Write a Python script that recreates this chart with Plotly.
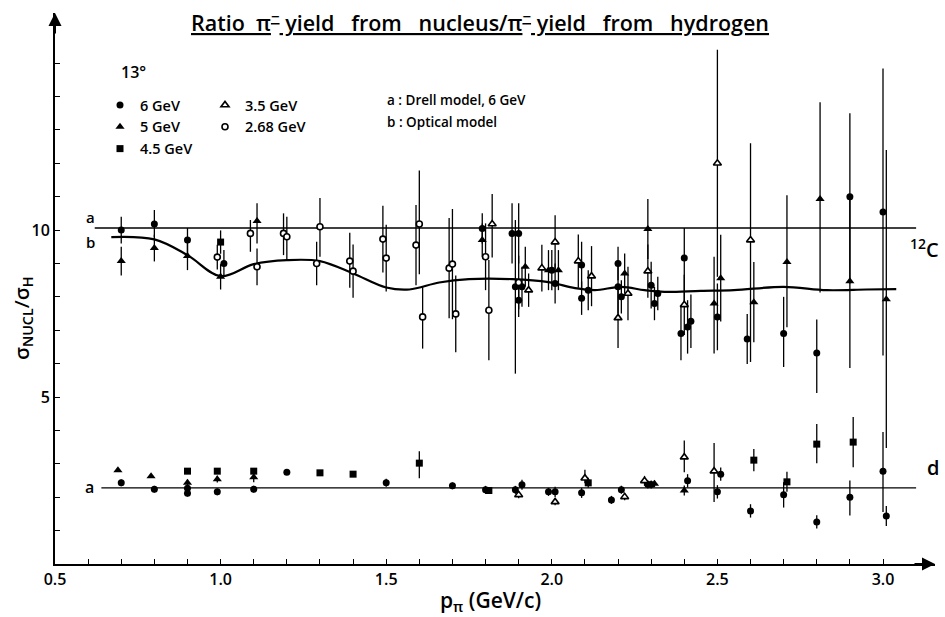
import plotly.graph_objects as go

# ---------------- data ----------------
# 6 GeV (filled circles)
x6 = [0.70, 0.80, 0.90, 1.01, 1.79, 1.88, 1.89, 1.90, 1.91, 1.90, 2.00, 2.01, 2.09, 2.09, 2.11, 2.20, 2.20, 2.21,
      2.30, 2.31, 2.32, 2.40, 2.39, 2.41, 2.42, 2.50, 2.59, 2.70, 2.80, 2.90, 3.00,
      0.70, 0.80, 0.90, 0.90, 0.99, 1.10, 1.20, 1.50, 1.70, 1.80, 1.89, 1.91, 1.99, 2.01, 2.09, 2.18, 2.21, 2.29,
      2.30, 2.41, 2.50, 2.51, 2.60, 2.70, 2.80, 2.90, 3.00, 3.01]
y6 = [10.0, 10.18, 9.7, 9.0, 10.05, 9.9, 8.3, 9.9, 8.3, 7.9, 8.8, 8.4, 8.95, 7.96, 8.2, 8.3, 9.0, 8.0,
      8.35, 7.8, 8.1, 9.16, 6.9, 7.1, 7.27, 7.4, 6.74, 6.9, 6.32, 11.0, 10.54,
      2.43, 2.24, 2.27, 2.12, 2.16, 2.24, 2.75, 2.43, 2.34, 2.22, 2.22, 2.37, 2.16, 2.16, 2.13, 1.92, 2.22, 2.38,
      2.38, 2.49, 2.16, 2.69, 1.59, 2.07, 1.26, 2.0, 2.78, 1.44]
ep6 = [0.4, 0.42, 0.36, 0.4, 0.45, 0.9, 2.0, 0.9, 0.6, 0.5, 0.6, 0.6, 0.7, 0.5, 0.6, 0.8, 0.5, 0.5,
       0.7, 0.5, 0.5, 0.9, 0.8, 0.8, 0.8, 1.0, 0.75, 1.1, 1.0, 2.5, 4.3,
       0.1, 0.1, 0.1, 0.1, 0.1, 0.1, 0.0, 0.12, 0.1, 0.12, 0.12, 0.15, 0.12, 0.15, 0.15, 0.12, 0.12, 0.12,
       0.12, 0.2, 0.2, 0.2, 0.2, 0.38, 0.2, 0.5, 1.17, 0.3]
em6 = [0.4, 0.4, 0.4, 0.37, 0.45, 0.9, 2.6, 0.9, 0.6, 0.5, 0.6, 0.6, 0.7, 0.5, 0.6, 0.8, 0.5, 0.5,
       0.7, 0.5, 0.5, 1.4, 0.8, 0.8, 0.8, 1.0, 0.75, 1.0, 1.2, 2.6, 4.3,
       0.1, 0.1, 0.1, 0.1, 0.1, 0.1, 0.0, 0.12, 0.1, 0.12, 0.12, 0.15, 0.12, 0.15, 0.15, 0.12, 0.12, 0.12,
       0.12, 0.2, 0.2, 0.2, 0.2, 0.38, 0.2, 0.55, 1.22, 0.3]

# 5 GeV (filled triangles)
x5 = [0.70, 0.80, 0.90, 1.00, 1.11, 1.79, 1.92, 1.99, 2.02, 2.22, 2.29, 2.49, 2.51, 2.61, 2.71, 2.81, 2.90, 3.01,
      0.69, 0.79, 0.90, 0.99, 1.10, 2.31, 2.40]
y5 = [9.07, 9.46, 9.22, 8.6, 10.27, 9.7, 8.9, 8.8, 8.8, 8.7, 10.03, 7.8, 8.56, 7.84, 9.04, 10.93, 8.47, 7.93,
      2.81, 2.63, 2.43, 2.54, 2.6, 2.4, 2.2]
ep5 = [0.43, 0.4, 0.4, 0.38, 0.53, 0.5, 0.6, 0.6, 0.6, 0.6, 0.9, 1.4, 1.3, 1.2, 2.0, 2.9, 2.5, 4.47,
       0.0, 0.0, 0.1, 0.1, 0.15, 0.1, 0.15]
em5 = [0.43, 0.4, 0.42, 0.38, 0.67, 0.5, 0.6, 0.6, 0.6, 0.6, 0.9, 1.5, 1.3, 1.2, 1.95, 2.8, 2.6, 4.46,
       0.0, 0.0, 0.1, 0.1, 0.15, 0.1, 0.15]

# 4.5 GeV (filled squares)
x45 = [1.00, 0.90, 0.99, 1.10, 1.30, 1.40, 1.60, 1.81, 2.11, 2.61, 2.71, 2.80, 2.91]
y45 = [9.64, 2.78, 2.78, 2.78, 2.73, 2.69, 3.02, 2.2, 2.43, 3.11, 2.46, 3.59, 3.65]
ep45 = [0.35, 0.0, 0.0, 0.05, 0.0, 0.0, 0.36, 0.1, 0.15, 0.33, 0.3, 0.6, 0.75]
em45 = [0.35, 0.0, 0.0, 0.05, 0.0, 0.0, 0.45, 0.1, 0.15, 0.33, 0.3, 0.57, 0.75]

# 3.5 GeV (open triangles)
x35 = [1.82, 1.93, 1.97, 2.01, 2.08, 2.12, 2.20, 2.23, 2.29, 2.40, 2.50, 2.60,
       1.90, 2.01, 2.10, 2.22, 2.28, 2.40, 2.49]
y35 = [10.18, 8.2, 8.86, 9.64, 9.07, 8.62, 7.37, 8.1, 8.77, 7.76, 12.0, 9.7,
       2.07, 1.86, 2.57, 2.01, 2.49, 3.2, 2.78]
ep35 = [0.9, 0.5, 0.7, 0.8, 0.8, 0.9, 0.9, 0.8, 0.8, 0.9, 3.4, 2.9, 0.1, 0.1, 0.25, 0.1, 0.15, 0.5, 0.84]
em35 = [1.0, 0.5, 0.7, 0.8, 0.8, 0.9, 0.9, 0.8, 0.8, 0.9, 3.4, 3.65, 0.1, 0.1, 0.15, 0.1, 0.15, 0.45, 0.92]

# 2.68 GeV (open circles)
x268 = [0.99, 1.09, 1.11, 1.19, 1.20, 1.29, 1.30, 1.39, 1.40, 1.49, 1.50, 1.59, 1.60, 1.61, 1.69, 1.70, 1.71,
        1.80, 1.81, 1.90]
y268 = [9.19, 9.9, 8.9, 9.9, 9.8, 9.0, 10.1, 9.07, 8.77, 9.73, 9.16, 9.55, 10.18, 7.4, 8.86, 8.98, 7.49,
        9.2, 7.6, 8.43]
ep268 = [0.37, 0.4, 0.55, 0.6, 0.6, 0.65, 0.86, 0.85, 0.8, 1.0, 1.0, 1.2, 1.6, 0.9, 1.5, 1.65, 1.15, 1.0, 1.5, 0.8]
em268 = [0.37, 0.55, 0.55, 0.65, 0.7, 0.65, 0.9, 0.8, 0.8, 1.0, 1.0, 1.2, 1.5, 0.95, 1.5, 1.65, 1.15, 1.0, 1.5, 0.8]

# model curves
drell_c_x = [0.62, 3.10]
drell_c_y = [10.06, 10.06]
drell_d_x = [0.64, 3.10]
drell_d_y = [2.28, 2.28]
optical_x = [0.67, 0.80, 0.90, 1.00, 1.10, 1.20, 1.30, 1.40, 1.50, 1.57, 1.66, 1.75, 1.88, 1.99, 2.07, 2.13,
             2.21, 2.28, 2.34, 2.45, 2.55, 2.70, 2.83, 2.95, 3.04]
optical_y = [9.79, 9.72, 9.25, 8.62, 8.98, 9.1, 9.07, 8.7, 8.28, 8.22, 8.43, 8.53, 8.53, 8.44, 8.26, 8.2,
             8.3, 8.2, 8.15, 8.18, 8.2, 8.3, 8.2, 8.22, 8.23]

# axes ticks
x_tickvals = [0.5, 0.6, 0.7, 0.8, 0.9, 1.0, 1.1, 1.2, 1.3, 1.4, 1.5, 1.6, 1.7, 1.8, 1.9, 2.0,
              2.1, 2.2, 2.3, 2.4, 2.5, 2.6, 2.7, 2.8, 2.9, 3.0]
x_ticktext = ["0.5", "", "", "", "", "1.0", "", "", "", "", "1.5", "", "", "", "", "2.0",
              "", "", "", "", "2.5", "", "", "", "", "3.0"]
y_tickvals = [0, 1, 2, 3, 4, 5, 6, 7, 8, 9, 10, 11, 12, 13, 14, 15]
y_ticktext = ["", "", "", "", "", "5", "", "", "", "", "10", "", "", "", "", ""]

FONT = "Open Sans"
W = 600
BLACK = "black"


def F(size):
    return dict(family=FONT, size=size, color=BLACK, weight=W)


def px(xp):
    return (xp - 55) / 880


def py(yp):
    return (564 - yp) / 551


fig = go.Figure()

# model lines
fig.add_trace(go.Scatter(x=drell_c_x, y=drell_c_y, mode="lines", line=dict(color=BLACK, width=1.4),
                         showlegend=False, hoverinfo="skip"))
fig.add_trace(go.Scatter(x=drell_d_x, y=drell_d_y, mode="lines", line=dict(color=BLACK, width=1.4),
                         showlegend=False, hoverinfo="skip"))
fig.add_trace(go.Scatter(x=optical_x, y=optical_y, mode="lines",
                         line=dict(color=BLACK, width=2.2, shape="spline", smoothing=1.0),
                         showlegend=False, hoverinfo="skip"))


def add_series(x, y, ep, em, name, symbol, size, legend, openm=False):
    fig.add_trace(go.Scatter(
        x=x, y=y, mode="markers", name=name, legend=legend,
        marker=dict(symbol=symbol, size=size, color="white" if openm else BLACK,
                    line=dict(color=BLACK, width=1.6 if openm else 0)),
        error_y=dict(type="data", symmetric=False, array=ep, arrayminus=em,
                     color=BLACK, thickness=1.3, width=0),
    ))


add_series(x6, y6, ep6, em6, "6 GeV", "circle", 7, "legend")
add_series(x5, y5, ep5, em5, "5 GeV", "triangle-up", 8, "legend")
add_series(x45, y45, ep45, em45, "4.5 GeV", "square", 7, "legend")
add_series(x35, y35, ep35, em35, "3.5 GeV", "triangle-up", 7, "legend2", openm=True)
add_series(x268, y268, ep268, em268, "2.68 GeV", "circle", 6, "legend2", openm=True)

S = "\u00a0"
title_txt = ("Ratio" + S * 2 + "π<sup>−</sup>" + S + "yield" + S * 3 + "from" + S * 3 + "nucleus/" +
             "π<sup>−</sup>" + S + "yield" + S * 3 + "from" + S * 3 + "hydrogen")

annotations = [
    dict(text=title_txt, xref="paper", yref="paper", x=px(480), y=py(22), xanchor="center", yanchor="middle",
         showarrow=False, font=dict(F(21.5), lineposition="under")),
    dict(text="13°", xref="paper", yref="paper", x=px(119), y=py(72), xanchor="left", yanchor="middle",
         showarrow=False, font=F(16)),
    dict(text="a" + S + ":" + S + "Drell" + S + "model," + S + "6" + S + "GeV", xref="paper", yref="paper",
         x=px(385), y=py(100), xanchor="left", yanchor="middle", showarrow=False, font=F(13.5)),
    dict(text="b" + S + ":" + S + "Optical" + S + "model", xref="paper", yref="paper",
         x=px(385), y=py(122), xanchor="left", yanchor="middle", showarrow=False, font=F(13.5)),
    dict(text="a", x=0.607, y=10.39, xanchor="center", yanchor="middle", showarrow=False, font=F(15)),
    dict(text="b", x=0.607, y=9.64, xanchor="center", yanchor="middle", showarrow=False, font=F(15)),
    dict(text="a", x=0.604, y=2.30, xanchor="center", yanchor="middle", showarrow=False, font=F(16)),
    dict(text="<sup>12</sup>C", x=3.125, y=9.45, showarrow=False, xanchor="center", yanchor="middle",
         font=F(20)),
    dict(text="d", x=3.15, y=2.9, showarrow=False, xanchor="center", yanchor="middle", font=F(20)),
    dict(text="σ<sub>NUCL</sub>/σ<sub>H</sub>", xref="paper", yref="paper", x=px(22), y=py(318),
         xanchor="center", yanchor="middle", textangle=-90, showarrow=False, font=F(20.5)),
    dict(text="p<sub>π</sub>" + S + "(GeV/c)", xref="paper", yref="paper", x=px(490), y=py(601),
         xanchor="center", yanchor="middle", showarrow=False, font=F(21)),
    # axis arrows
    dict(x=3.157, y=0, ax=-22, ay=0, showarrow=True, arrowhead=2, arrowsize=1.3, arrowwidth=2,
         arrowcolor=BLACK, text=""),
    dict(x=0.5, y=16.5, ax=0, ay=22, showarrow=True, arrowhead=2, arrowsize=1.3, arrowwidth=2,
         arrowcolor=BLACK, text=""),
]

fig.update_layout(
    width=945, height=617,
    margin=dict(l=55, r=10, t=13, b=53),
    paper_bgcolor="white", plot_bgcolor="white",
    font=F(14),
    xaxis=dict(range=[0.5, 3.157], showline=True, linewidth=2, linecolor=BLACK, ticks="inside", ticklen=5,
               tickwidth=1.4, tickcolor=BLACK, tickvals=x_tickvals, ticktext=x_ticktext,
               tickfont=F(16), showgrid=False, zeroline=False),
    yaxis=dict(range=[0, 16.5], showline=True, linewidth=2, linecolor=BLACK, ticks="inside", ticklen=5,
               tickwidth=1.4, tickcolor=BLACK, tickvals=y_tickvals, ticktext=y_ticktext,
               tickfont=F(16), showgrid=False, zeroline=False),
    legend=dict(x=px(100), y=py(89), xanchor="left", yanchor="top",
                font=F(14.5), bgcolor="rgba(0,0,0,0)", tracegroupgap=0, itemwidth=30),
    legend2=dict(x=px(205), y=py(89), xanchor="left", yanchor="top",
                 font=F(14.5), bgcolor="rgba(0,0,0,0)", tracegroupgap=0, itemwidth=30),
    annotations=annotations,
    showlegend=True,
)

fig.write_html("out.html")
